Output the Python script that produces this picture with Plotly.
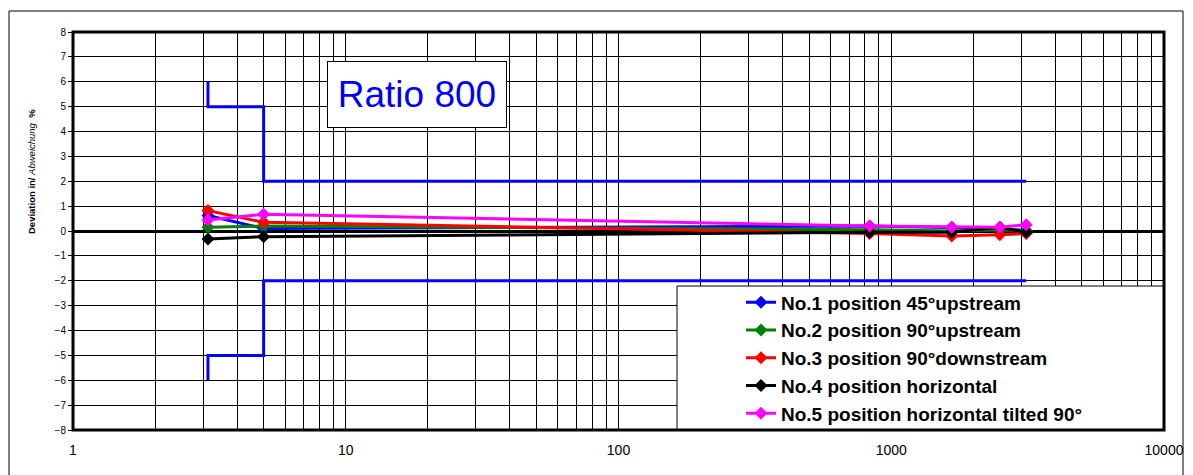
import plotly.graph_objects as go

# ---------------- data ----------------
flow = [3.125, 5, 833, 1667, 2500, 3125]
names = [
    "No.1 position 45°upstream",
    "No.2 position 90°upstream",
    "No.3 position 90°downstream",
    "No.4 position horizontal",
    "No.5 position horizontal tilted 90°",
]
s1 = [0.62, 0.10, 0.20, 0.15, 0.10, 0.02]
s2 = [0.15, 0.20, 0.05, 0.00, 0.05, 0.00]
s3 = [0.82, 0.35, -0.10, -0.20, -0.15, -0.10]
s4 = [-0.32, -0.23, -0.05, -0.05, 0.15, -0.05]
s5 = [0.44, 0.67, 0.20, 0.15, 0.15, 0.25]
series = [s1, s2, s3, s4, s5]
colors = ["#0000FF", "#008000", "#FF0000", "#000000", "#FF00FF"]

limit_x = [3.125, 3.125, 5, 5, 3125]
limit_upper = [6, 5, 5, 2, 2]
limit_lower = [-6, -5, -5, -2, -2]

x_tickvals = [1, 10, 100, 1000, 10000]
x_ticktext = ["1", "10", "100", "1000", "10000"]
y_tickvals = list(range(-8, 9))

FONT = "Liberation Sans, Arial, sans-serif"

fig = go.Figure()
for lim in (limit_upper, limit_lower):
    fig.add_trace(go.Scatter(x=limit_x, y=lim, mode="lines",
                             line=dict(color="#0000FF", width=3),
                             showlegend=False, hoverinfo="skip"))

for i, (vals, nm, c) in enumerate(zip(series, names, colors)):
    fig.add_trace(go.Scatter(
        x=flow, y=vals, mode="lines+markers", name="<b>" + nm + "</b>",
        line=dict(color=c, width=3),
        marker=dict(symbol="diamond", size=10, color=c),
    ))

# page has an 8px body margin; work in screen pixels and convert
OFF = 8
SW, SH = 1193, 475
PL, PR, PT, PB = 73, 1164, 32, 430          # plot area in screen px
W, H = SW - OFF, SH - OFF
L, T = PL - OFF, PT - OFF
R = W - (PR - OFF)
B = H - (PB - OFF)
pw, ph = PR - PL, PB - PT


def px_x(p):
    return (p - PL) / pw


def px_y(p):
    return (PB - p) / ph


shapes = [
    # outer chart frame
    dict(type="rect", xref="paper", yref="paper",
         x0=px_x(9), x1=px_x(1183), y0=px_y(495), y1=px_y(11),
         line=dict(color="#000000", width=1), layer="below"),
    # legend box
    dict(type="rect", xref="paper", yref="paper",
         x0=px_x(677), x1=1, y0=0, y1=px_y(286),
         fillcolor="white", line=dict(color="#000000", width=1), layer="above"),
    # plot border
    dict(type="rect", xref="paper", yref="paper", x0=0, x1=1, y0=0, y1=1,
         line=dict(color="#000000", width=3), layer="above"),
]

annotations = [
    dict(text="Ratio 800", xref="paper", yref="paper",
         x=px_x(417), y=px_y(94.5), xanchor="center", yanchor="middle",
         showarrow=False, font=dict(family=FONT, size=37, color="#0000FF"),
         bgcolor="white", bordercolor="#000000", borderwidth=1,
         width=178, height=65, borderpad=0),
    dict(text="<b>Deviation in/</b> <i>Abweichung</i>  <b>%</b>",
         xref="paper", yref="paper", x=px_x(31), y=px_y(172),
         xanchor="center", yanchor="middle", textangle=-90, showarrow=False,
         font=dict(family=FONT, size=9.5, color="#000000")),
]

fig.update_layout(
    width=W, height=H,
    margin=dict(l=L, r=R, t=T, b=B, pad=0, autoexpand=False),
    paper_bgcolor="white", plot_bgcolor="white",
    font=dict(family=FONT, color="#000000"),
    shapes=shapes, annotations=annotations,
    showlegend=True,
    legend=dict(x=px_x(741), y=px_y(283.5), xanchor="left", yanchor="top",
                bgcolor="rgba(0,0,0,0)", borderwidth=0,
                font=dict(family=FONT, size=19, color="#000000"),
                itemwidth=30),
)

fig.update_xaxes(
    type="log", range=[0, 4], automargin=False,
    tickvals=x_tickvals, ticktext=x_ticktext,
    tickfont=dict(family=FONT, size=14, color="#000000"),
    ticks="", showgrid=True, gridcolor="#000000", gridwidth=1,
    minor=dict(dtick="D1", showgrid=True, gridcolor="#000000", gridwidth=1, ticks=""),
    showline=False, zeroline=False, ticklabelstandoff=10,
)
fig.update_yaxes(
    range=[-8, 8], tickvals=y_tickvals, automargin=False,
    tickfont=dict(family=FONT, size=10, color="#000000"),
    ticks="outside", ticklen=4, tickcolor="#000000",
    showgrid=True, gridcolor="#000000", gridwidth=1,
    zeroline=True, zerolinecolor="#000000", zerolinewidth=3,
    showline=False,
)

fig.write_html("out.html")
